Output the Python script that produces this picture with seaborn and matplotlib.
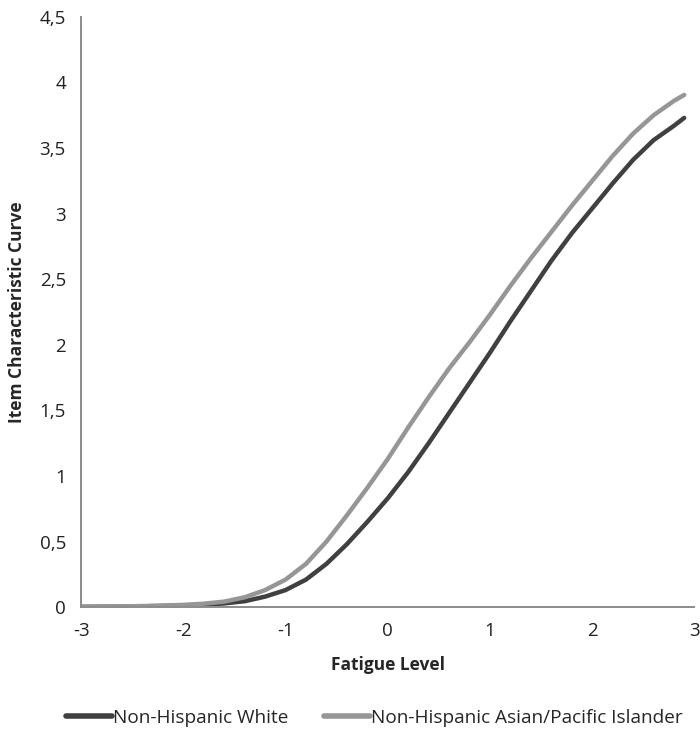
import pandas as pd
import numpy as np
import seaborn as sns
import matplotlib.pyplot as plt

# fatigue levels (theta) and item characteristic curve values
theta = [-3.0, -2.8, -2.6, -2.4, -2.2, -2.0, -1.8, -1.6, -1.4, -1.2, -1.0,
         -0.8, -0.6, -0.4, -0.2, 0.0, 0.2, 0.4, 0.6, 0.8, 1.0,
         1.2, 1.4, 1.6, 1.8, 2.0, 2.2, 2.4, 2.6, 2.8, 2.9]
white = [0.002, 0.003, 0.004, 0.006, 0.009, 0.013, 0.019, 0.028, 0.045, 0.08, 0.13,
         0.21, 0.33, 0.48, 0.65, 0.83, 1.03, 1.25, 1.48, 1.71, 1.94,
         2.18, 2.41, 2.64, 2.85, 3.04, 3.23, 3.41, 3.56, 3.67, 3.73]
asian = [0.003, 0.004, 0.006, 0.008, 0.012, 0.017, 0.026, 0.042, 0.075, 0.13, 0.21,
         0.33, 0.50, 0.70, 0.91, 1.13, 1.37, 1.60, 1.82, 2.02, 2.23,
         2.45, 2.66, 2.86, 3.06, 3.25, 3.44, 3.61, 3.75, 3.86, 3.905]

groups = ["Non-Hispanic White", "Non-Hispanic Asian/Pacific Islander"]
x_ticks = [-3, -2, -1, 0, 1, 2, 3]
y_ticks = [0, 0.5, 1, 1.5, 2, 2.5, 3, 3.5, 4, 4.5]
y_labels = ["0", "0,5", "1", "1,5", "2", "2,5", "3", "3,5", "4", "4,5"]

df = pd.concat([
    pd.DataFrame({"Fatigue Level": theta, "ICC": white, "Group": groups[0]}),
    pd.DataFrame({"Fatigue Level": theta, "ICC": asian, "Group": groups[1]}),
])

sns.set_style("white")
plt.rcParams['font.family'] = ['Open Sans', 'DejaVu Sans']
plt.rcParams['axes.unicode_minus'] = False

fig = plt.figure(figsize=(7, 7.35), dpi=100)
ax = fig.add_axes([0.116, 0.174, 0.876, 0.803])

sns.lineplot(data=df, x="Fatigue Level", y="ICC", hue="Group", hue_order=groups,
             palette=["#404040", "#969696"], linewidth=3.2, ax=ax,
             legend=True)
for line in ax.get_lines():
    line.set_solid_capstyle("round")
    line.set_solid_joinstyle("round")

ax.set_xlim(-3, 3)
ax.set_ylim(0, 4.5)
ax.set_xticks(x_ticks)
ax.set_yticks(y_ticks)
ax.set_yticklabels(y_labels)
ax.tick_params(axis="both", direction="out", length=5, width=1.2,
               color="#8c8c8c", labelsize=13.5, labelcolor="#222222", pad=6)

for side in ["top", "right"]:
    ax.spines[side].set_visible(False)
for side in ["left", "bottom"]:
    ax.spines[side].set_color("#8c8c8c")
    ax.spines[side].set_linewidth(1.4)

ax.set_xlabel("Fatigue Level", fontsize=12.5, fontweight="bold", labelpad=11)
ax.set_ylabel("Item Characteristic Curve", fontsize=12.5, fontweight="bold", labelpad=10)

handles, labels = ax.get_legend_handles_labels()
ax.get_legend().remove()
leg = fig.legend(handles, labels, loc="center", bbox_to_anchor=(0.535, 0.023),
                 ncol=2, frameon=False, fontsize=13.7, handlelength=2.4,
                 handletextpad=0.05, columnspacing=1.9)
for h in leg.get_lines():
    h.set_linewidth(4)

plt.savefig("out.png", dpi=100)
